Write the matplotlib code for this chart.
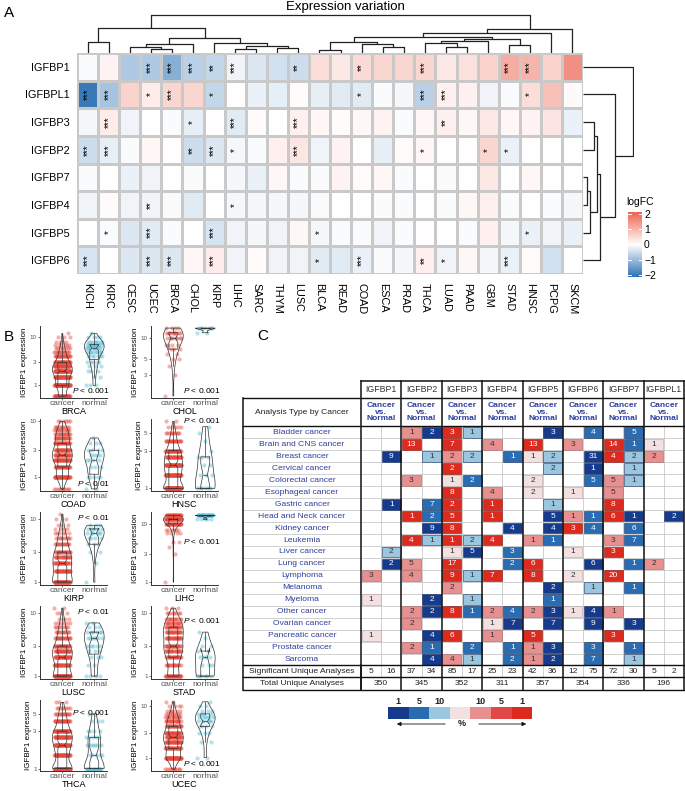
import numpy as np
import matplotlib
matplotlib.use("Agg")
import matplotlib.pyplot as plt
from matplotlib.colors import LinearSegmentedColormap
from matplotlib.patches import Rectangle

plt.rcParams["font.family"] = ["Liberation Sans", "DejaVu Sans"]
plt.rcParams["mathtext.fontset"] = "custom"
plt.rcParams["mathtext.it"] = "Liberation Sans:italic"
plt.rcParams["mathtext.rm"] = "Liberation Sans"

# ---------------- panel A: logFC heatmap ----------------
genes_a = ["IGFBP1", "IGFBPL1", "IGFBP3", "IGFBP2", "IGFBP7", "IGFBP4", "IGFBP5", "IGFBP6"]
cancers_a = ["KICH", "KIRC", "CESC", "UCEC", "BRCA", "CHOL", "KIRP", "LIHC", "SARC", "THYM", "LUSC", "BLCA",
             "READ", "COAD", "ESCA", "PRAD", "THCA", "LUAD", "PAAD", "GBM", "STAD", "HNSC", "PCPG", "SKCM"]
fc_igfbp1 = [-0.05, 0.15, -0.8, -0.8, -1.2, -0.7, -0.6, -0.15, -0.35, -0.45, -0.5, 0.45,
             0.3, 0.5, 0.55, 0.55, 0.55, 0.3, 0.4, 0.6, 1.1, 1.0, 0.6, 1.5]
fc_igfbpl1 = [-2.0, -0.9, 0.6, 0.25, 0.55, 0.55, -0.6, 0.03, -0.2, -0.25, 0.05, -0.25,
              -0.3, -0.3, -0.05, -0.1, -0.7, 0.2, 0.2, -0.15, -0.05, 0.45, 0.85, 0.08]
fc_igfbp3 = [-0.1, 0.25, -0.15, 0.0, -0.05, -0.25, 0.02, -0.3, 0.05, 0.0, 0.2, 0.1,
             0.05, 0.1, 0.15, -0.05, 0.1, 0.2, 0.1, 0.3, 0.1, 0.15, 0.35, -0.2]
fc_igfbp2 = [-0.5, -0.25, -0.05, 0.1, 0.02, -0.5, -0.35, -0.1, -0.05, 0.2, 0.35, -0.15,
             0.15, 0.0, -0.25, 0.05, 0.1, 0.0, 0.02, 0.55, -0.2, 0.0, 0.0, 0.0]
fc_igfbp7 = [-0.08, 0.0, -0.2, -0.15, 0.0, -0.05, 0.0, -0.1, -0.2, 0.1, -0.05, -0.05,
             0.15, 0.05, 0.1, -0.05, 0.0, -0.08, 0.0, 0.3, 0.0, 0.1, 0.0, 0.0]
fc_igfbp4 = [-0.15, 0.05, -0.15, -0.15, -0.08, -0.3, 0.0, -0.1, -0.1, -0.1, -0.1, -0.08,
             0.0, 0.0, -0.05, -0.05, 0.0, -0.05, 0.1, 0.2, -0.05, 0.0, -0.05, -0.1]
fc_igfbp5 = [0.0, -0.05, -0.35, -0.3, -0.05, 0.0, -0.4, -0.15, -0.1, -0.15, 0.1, -0.1,
             -0.05, -0.05, -0.15, -0.05, 0.02, 0.0, -0.05, 0.2, -0.1, -0.2, -0.15, -0.2]
fc_igfbp6 = [-0.4, 0.0, -0.35, -0.35, -0.35, 0.1, 0.25, -0.15, 0.05, -0.15, -0.15, -0.3,
             -0.3, -0.2, -0.05, -0.1, 0.2, -0.15, 0.1, -0.1, -0.2, 0.05, -0.45, 0.0]

st_igfbp1 = ["", "", "", "***", "***", "***", "**", "***", "", "", "**", "",
             "", "**", "", "", "***", "", "", "", "***", "***", "", ""]
st_igfbpl1 = ["***", "***", "", "*", "***", "", "*", "", "", "", "", "",
              "", "*", "", "", "***", "***", "", "", "", "*", "", ""]
st_igfbp3 = ["", "***", "", "", "", "*", "", "***", "", "", "***", "",
             "", "", "", "", "", "**", "", "", "", "", "", ""]
st_igfbp2 = ["***", "***", "", "", "", "**", "***", "*", "", "", "***", "",
             "", "", "", "", "*", "", "", "*", "*", "", "", ""]
st_igfbp7 = [""] * 24
st_igfbp4 = ["", "", "", "**", "", "", "", "*", "", "", "", "",
             "", "", "", "", "", "", "", "", "", "", "", ""]
st_igfbp5 = ["", "*", "", "***", "", "", "***", "", "", "", "", "*",
             "", "", "", "", "", "", "", "", "", "*", "", ""]
st_igfbp6 = ["***", "", "", "***", "***", "", "***", "", "", "", "", "*",
             "", "***", "", "", "**", "*", "", "", "***", "", "", ""]

# dendrograms: (left, right, height) with leaf indices
col_tree = (((0, 1, 11),
             (((2, (3, 4, 4), 6), 5, 9), (6, ((7, 8, 4), (9, 10, 5), 7), 10), 15), 25),
            (((((11, 12, 3), (13, (14, 15, 6), 9), 11),
               (((16, (17, 18, 6), 10), 19, 12), (20, 21, 8), 14), 16), 22, 20), 23, 24), 38)
row_tree = (0, (1, (((2, 3, 10), ((4, 5, 4), 6, 7), 13), 7, 16), 30), 47)

# ---------------- panel B: IGFBP1 expression ----------------
levels = [0.6, 1, 1.5, 2, 2.5, 3, 4, 5, 6, 7, 8, 10, 12, 14]
brca_cancer = [40, 60, 50, 60, 40, 35, 25, 15, 8, 6, 4, 3, 1, 0]
brca_normal = [0, 3, 2, 3, 3, 5, 6, 8, 10, 10, 8, 4, 1, 0]
chol_cancer = [0, 0, 1, 0, 0, 1, 1, 2, 2, 3, 4, 8, 10, 4]
chol_normal = [0, 0, 0, 0, 0, 0, 0, 0, 0, 0, 0, 0, 2, 7]
coad_cancer = [10, 40, 25, 35, 30, 30, 25, 20, 15, 12, 10, 6, 0, 0]
coad_normal = [2, 5, 3, 4, 4, 4, 3, 1, 0, 0, 0, 0, 0, 0]
hnsc_cancer = [0, 80, 50, 50, 30, 35, 20, 10, 5, 2, 0, 0, 0, 0]
hnsc_normal = [0, 8, 3, 2, 3, 1, 1, 1, 1, 0, 0, 0, 0, 0]
kirp_cancer = [0, 50, 30, 25, 20, 20, 15, 10, 6, 4, 3, 2, 1, 0]
kirp_normal = [0, 1, 0, 1, 0, 2, 3, 4, 6, 5, 3, 0, 0, 0]
lihc_cancer = [0, 1, 0, 0, 0, 1, 1, 2, 0, 4, 6, 30, 45, 25]
lihc_normal = [0, 0, 0, 0, 0, 0, 0, 0, 0, 0, 0, 0, 5, 25]
lusc_cancer = [0, 60, 30, 35, 30, 25, 20, 12, 8, 6, 4, 3, 2, 0]
lusc_normal = [0, 4, 2, 3, 3, 5, 7, 6, 3, 2, 0, 0, 0, 0]
stad_cancer = [0, 30, 15, 20, 20, 25, 25, 22, 18, 15, 12, 8, 3, 0]
stad_normal = [0, 6, 3, 4, 2, 2, 1, 1, 0, 0, 0, 0, 0, 0]
thca_cancer = [0, 80, 40, 45, 40, 40, 25, 15, 8, 3, 0, 0, 0, 0]
thca_normal = [0, 20, 5, 6, 5, 4, 3, 2, 0, 0, 0, 0, 0, 0]
ucec_cancer = [10, 50, 30, 35, 30, 30, 25, 18, 12, 8, 6, 4, 2, 0]
ucec_normal = [0, 2, 0, 2, 0, 3, 4, 6, 6, 4, 3, 2, 1, 0]
b_names = ["BRCA", "CHOL", "COAD", "HNSC", "KIRP", "LIHC", "LUSC", "STAD", "THCA", "UCEC"]
b_pvals = ["< 0.001", "< 0.001", "< 0.01", "< 0.001", "< 0.01", "< 0.001", "< 0.01", "< 0.001", "< 0.001", "< 0.001"]
b_ticks = [[1, 3, 10], [3, 5, 10], [1, 3, 10], [1, 3, 5], [1, 3, 10],
           [1, 3, 10], [1, 3, 10], [1, 3, 10], [1, 3, 5], [1, 3, 10]]

# ---------------- panel C: Oncomine table ----------------
c_genes = ["IGFBP1", "IGFBP2", "IGFBP3", "IGFBP4", "IGFBP5", "IGFBP6", "IGFBP7", "IGFBPL1"]
c_cancers = ["Bladder cancer", "Brain and CNS cancer", "Breast cancer", "Cervical cancer", "Colorectal cancer",
             "Esophageal cancer", "Gastric cancer", "Head and Neck cancer", "Kidney cancer", "Leukemia",
             "Liver cancer", "Lung cancer", "Lymphoma", "Melanoma", "Myeloma", "Other cancer",
             "Ovarian cancer", "Pancreatic cancer", "Prostate cancer", "Sarcoma"]
# count + rank grade (D: 1%, M: 5%, L: 10%, P: beyond)
igfbp1_up = ["", "", "", "", "", "", "", "", "", "", "", "", "3L", "", "1P", "", "", "1P", "", ""]
igfbp1_dn = ["", "", "9D", "", "", "", "1D", "", "", "", "2L", "2D", "", "", "", "", "", "", "", ""]
igfbp2_up = ["1L", "13D", "", "", "3L", "", "", "1D", "", "4D", "", "5L", "4L", "", "", "2L", "2L", "", "2L", ""]
igfbp2_dn = ["2D", "", "1L", "", "", "", "7M", "2M", "9D", "1L", "", "", "", "", "2D", "2D", "", "4D", "1M", "4D"]
igfbp3_up = ["3D", "7D", "2L", "2D", "1P", "8D", "2D", "5D", "8D", "1D", "1P", "17D", "9D", "2L", "", "8D", "", "6D", "", "4L"]
igfbp3_dn = ["1L", "", "2L", "", "2M", "", "", "", "", "2L", "5D", "", "1L", "", "1L", "1M", "", "", "2M", "1L"]
igfbp4_up = ["", "4L", "", "", "", "4L", "1D", "1D", "", "4D", "", "", "7D", "", "", "2L", "1P", "1L", "", ""]
igfbp4_dn = ["", "", "1M", "", "", "", "", "", "4D", "", "3M", "2M", "", "", "", "4M", "7D", "", "1M", "2M"]
igfbp5_up = ["", "13D", "1P", "", "2P", "2P", "", "", "", "1L", "", "6D", "8D", "", "", "2L", "", "5D", "1L", "1L"]
igfbp5_dn = ["3D", "", "2L", "2L", "", "", "1L", "5D", "4D", "1M", "", "", "", "2D", "1M", "3D", "7D", "", "3D", "2D"]
igfbp6_up = ["", "3L", "", "", "", "1P", "", "1L", "3D", "", "1P", "", "2P", "", "", "1P", "", "", "", ""]
igfbp6_dn = ["4M", "", "31D", "1D", "5M", "", "", "1M", "4M", "", "", "6D", "", "1L", "", "4D", "9D", "", "3M", "7M"]
igfbp7_up = ["", "14D", "4D", "", "5L", "5L", "8D", "6D", "", "3L", "3D", "", "20D", "", "", "1L", "", "3D", "", ""]
igfbp7_dn = ["5M", "1M", "2L", "1L", "1L", "", "", "1D", "6M", "7M", "", "1M", "", "1M", "", "", "3D", "", "1M", "1L"]
igfbpl1_up = ["", "1P", "2L", "", "", "", "", "", "", "", "", "2L", "", "", "", "", "", "", "", ""]
igfbpl1_dn = ["", "", "", "", "", "", "", "2D", "", "", "", "", "", "", "", "", "", "", "", ""]
sig_analyses = [5, 16, 37, 34, 85, 17, 25, 23, 42, 36, 12, 75, 72, 30, 5, 2]
total_analyses = [350, 345, 352, 311, 357, 354, 336, 196]
legend_ranks = ["1", "5", "10", "", "10", "5", "1"]

W, H = 685, 791
fig = plt.figure(figsize=(W / 100, H / 100), dpi=100)


def px_axes(x0, y0, x1, y1):
    return fig.add_axes([x0 / W, 1 - y1 / H, (x1 - x0) / W, (y1 - y0) / H])


def draw_tree(ax, node, top):
    if isinstance(node, int):
        return node + 0.5, 0
    left, right, h = node
    cl, hl = draw_tree(ax, left, top)
    cr, hr = draw_tree(ax, right, top)
    if top:
        ax.plot([cl, cl, cr, cr], [hl, h, h, hr], color="#222222", lw=0.9, solid_capstyle="butt")
    else:
        ax.plot([hl, h, h, hr], [cl, cl, cr, cr], color="#222222", lw=0.9, solid_capstyle="butt")
    return (cl + cr) / 2, h


# ---- A ----
cmap = LinearSegmentedColormap.from_list("fc", ["#2f72b4", "#ffffff", "#ec6451"])
vmin, vmax = -2.1, 2.1
fc = np.array([fc_igfbp1, fc_igfbpl1, fc_igfbp3, fc_igfbp2, fc_igfbp7, fc_igfbp4, fc_igfbp5, fc_igfbp6])
stars = [st_igfbp1, st_igfbpl1, st_igfbp3, st_igfbp2, st_igfbp7, st_igfbp4, st_igfbp5, st_igfbp6]

ax = px_axes(77, 53, 583, 274)
ax.pcolormesh(np.arange(len(cancers_a) + 1), np.arange(len(genes_a) + 1), fc, cmap=cmap,
              vmin=vmin, vmax=vmax, edgecolors="#c9c9c9", linewidth=0.9)
ax.set_xlim(0, len(cancers_a))
ax.set_ylim(len(genes_a), 0)
for r in range(len(genes_a)):
    for c in range(len(cancers_a)):
        if stars[r][c]:
            ax.text(c + 0.5, r + 0.5, stars[r][c], rotation=90, ha="center", va="center", fontsize=7)
ax.set_xticks(np.arange(len(cancers_a)) + 0.5)
ax.set_xticklabels(cancers_a, rotation=270, fontsize=7.8)
ax.set_yticks(np.arange(len(genes_a)) + 0.5)
ax.set_yticklabels(genes_a, fontsize=7.8)
ax.tick_params(length=0, pad=5)
ax.tick_params(axis="x", pad=6.5)
for s in ax.spines.values():
    s.set_visible(False)

dax = px_axes(77, 13, 583, 53)
draw_tree(dax, col_tree, True)
dax.set_xlim(0, len(cancers_a))
dax.set_ylim(0, 40)
dax.axis("off")

rax = px_axes(583, 53, 634, 274)
draw_tree(rax, row_tree, False)
rax.set_ylim(len(genes_a), 0)
rax.set_xlim(0, 48)
rax.axis("off")

cax = px_axes(628, 212, 642, 277)
cax.imshow(np.linspace(vmax, vmin, 200)[:, None], aspect="auto", cmap=cmap, vmin=vmin, vmax=vmax,
           extent=(0, 1, vmin, vmax))
cb_ticks = [-2, -1, 0, 1, 2]
for t in cb_ticks:
    cax.plot([0, 0.22], [t, t], color="white", lw=0.7)
    cax.plot([0.78, 1], [t, t], color="white", lw=0.7)
cax.set_xlim(0, 1)
cax.set_ylim(vmin, vmax)
cax.set_xticks([])
cax.yaxis.tick_right()
cax.set_yticks(cb_ticks)
cax.set_yticklabels([str(t).replace("-", "\u2212") for t in cb_ticks], fontsize=7.5)
cax.tick_params(length=0, pad=1.5)
for s in cax.spines.values():
    s.set_visible(False)
cax.set_title("logFC", fontsize=7.5, loc="left", pad=5, x=-0.1)

# ---- B ----
b_cancer = [brca_cancer, chol_cancer, coad_cancer, hnsc_cancer, kirp_cancer,
            lihc_cancer, lusc_cancer, stad_cancer, thca_cancer, ucec_cancer]
b_normal = [brca_normal, chol_normal, coad_normal, hnsc_normal, kirp_normal,
            lihc_normal, lusc_normal, stad_normal, thca_normal, ucec_normal]
b_ylim = [(0.55, 17), (1.4, 15), (0.55, 11), (0.93, 7.5), (0.9, 13),
          (0.9, 16), (0.9, 13), (0.9, 13), (0.93, 7.5), (0.55, 13)]
b_py = [0.1, 0.1, 0.1, 0.98, 0.92, 0.6, 0.93, 0.8, 0.83, 0.1]
row_y = [(326, 398), (419, 491), (512, 585), (606, 679), (700, 771)]
col_x = [(40, 107), (151, 218)]
red, teal = "#e8473b", "#4cb9d4"
for k, name in enumerate(b_names):
    r, c = divmod(k, 2)
    bx = px_axes(col_x[c][0], row_y[r][0], col_x[c][1], row_y[r][1])
    groups = [np.log10(np.repeat(levels, b_cancer[k])), np.log10(np.repeat(levels, b_normal[k]))]
    for pos, vals, colr in zip([1, 2], groups, [red, teal]):
        jit = ((np.arange(len(vals)) * 0.618034) % 1 - 0.5) * 0.5
        bx.scatter(pos + jit, vals, s=9, color=colr, alpha=0.42, lw=0, zorder=1, clip_on=False)
    parts = bx.violinplot(groups, positions=[1, 2], widths=0.62, showextrema=False)
    for body in parts["bodies"]:
        body.set_facecolor("none")
        body.set_edgecolor("#333333")
        body.set_linewidth(0.5)
        body.set_alpha(1)
    lp = dict(color="#333333", linewidth=0.5)
    bx.boxplot(groups, positions=[1, 2], widths=0.28, notch=True, showfliers=False,
               boxprops=lp, whiskerprops=lp, medianprops=lp, capprops=dict(linewidth=0))
    bx.set_xlim(0.3, 2.4)
    bx.set_ylim(np.log10(b_ylim[k][0]), np.log10(b_ylim[k][1]))
    bx.set_yticks(np.log10(b_ticks[k]))
    bx.set_yticklabels([str(t) for t in b_ticks[k]], fontsize=4.5, color="#555555")
    bx.set_xticks([1, 2])
    bx.set_xticklabels(["cancer", "normal"], fontsize=6, color="#555555")
    bx.tick_params(length=1.5, width=0.5, pad=1, color="#333333")
    bx.tick_params(axis="x", pad=0.3)
    bx.set_xlabel(name, fontsize=6.5, labelpad=-0.3)
    bx.set_ylabel("IGFBP1 expression", fontsize=5.8, labelpad=1)
    for s in ["top", "right"]:
        bx.spines[s].set_visible(False)
    for s in ["left", "bottom"]:
        bx.spines[s].set_linewidth(0.7)
        bx.spines[s].set_color("#333333")
    bx.text(1.04, b_py[k], r"$\it{P}$ " + b_pvals[k], transform=bx.transAxes, ha="right", va="center",
            fontsize=6, clip_on=False)

# ---- C ----
up_cols = [igfbp1_up, igfbp2_up, igfbp3_up, igfbp4_up, igfbp5_up, igfbp6_up, igfbp7_up, igfbpl1_up]
dn_cols = [igfbp1_dn, igfbp2_dn, igfbp3_dn, igfbp4_dn, igfbp5_dn, igfbp6_dn, igfbp7_dn, igfbpl1_dn]
red_sh = {"D": "#dc2a1f", "M": "#e04845", "L": "#e88f8f", "P": "#f3e0e0"}
blue_sh = {"D": "#173b8c", "M": "#2a6cb1", "L": "#9ac6df", "P": "#dbe8f2"}
edge_sh = {"D": "#7a1a14", "M": "#8a2a28", "L": "#a06060", "P": "#b0a0a0"}

tax = px_axes(238, 376, 685, 694)
tax.set_xlim(238, 685)
tax.set_ylim(694, 376)
tax.axis("off")
x_left, x_lab, x_right = 243, 361, 684
sw = (x_right - x_lab) / (2 * len(c_genes))
y_gene, y_sub, y_data = 381, 398, 426.5
rh = 11.95
y_sig = y_data + len(c_cancers) * rh
y_tot = y_sig + 12
y_end = y_tot + 13
blue_txt = "#2d3f9c"

for i, name in enumerate(c_cancers):
    tax.text((x_left + x_lab) / 2, y_data + (i + 0.5) * rh, name, ha="center", va="center",
             fontsize=6.1, color=blue_txt)
for g, gene in enumerate(c_genes):
    for side, cells, shades in [(0, up_cols[g], red_sh), (1, dn_cols[g], blue_sh)]:
        x = x_lab + (2 * g + side) * sw
        for i, cell in enumerate(cells):
            if not cell:
                continue
            count, grade = cell[:-1], cell[-1]
            y = y_data + i * rh
            tax.add_patch(Rectangle((x + 0.6, y + 0.6), sw - 1.2, rh - 1.2, facecolor=shades[grade],
                                    edgecolor=edge_sh[grade] if side == 0 else "#1c2c5a", lw=0.4, zorder=2))
            tax.text(x + sw / 2, y + rh / 2, count, ha="center", va="center", fontsize=6, zorder=3,
                     color="white" if grade in "DM" else "#333333")
    xm = x_lab + 2 * g * sw
    tax.text(xm + sw, (y_gene + y_sub) / 2, gene, ha="center", va="center", fontsize=6.3, color="#333333")
    tax.text(xm + sw, (y_sub + y_data) / 2, "Cancer\nvs.\nNormal", ha="center", va="center", fontsize=6,
             color=blue_txt, fontweight="bold", linespacing=0.95)
    for side in (0, 1):
        tax.text(xm + (side + 0.5) * sw, (y_sig + y_tot) / 2, str(sig_analyses[2 * g + side]),
                 ha="center", va="center", fontsize=6, color="#222222")
    tax.text(xm + sw, (y_tot + y_end) / 2, str(total_analyses[g]), ha="center", va="center",
             fontsize=6, color="#222222")
tax.text((x_left + x_lab) / 2, (y_sub + y_data) / 2, "Analysis Type by Cancer", ha="center", va="center",
         fontsize=6.1, color="#222222")
tax.text((x_left + x_lab) / 2, (y_sig + y_tot) / 2, "Significant Unique Analyses", ha="center", va="center",
         fontsize=6.1, color="#222222")
tax.text((x_left + x_lab) / 2, (y_tot + y_end) / 2, "Total Unique Analyses", ha="center", va="center",
         fontsize=6.1, color="#222222")

# grid
for i in range(1, len(c_cancers)):
    tax.plot([x_left, x_right], [y_data + i * rh] * 2, color="#bdbdbd", lw=0.5, zorder=1)
for k in range(2 * len(c_genes)):
    if k % 2 == 1:
        xx = x_lab + k * sw
        tax.plot([xx, xx], [y_data, y_tot], color="#bdbdbd", lw=0.5, zorder=1)
for g in range(len(c_genes) + 1):
    xx = x_lab + 2 * g * sw
    tax.plot([xx, xx], [y_gene, y_end], color="#111111", lw=1.1, zorder=4, clip_on=False)
tax.plot([x_left, x_left], [y_sub, y_end], color="#111111", lw=1.1, zorder=4)
tax.plot([x_lab, x_right], [y_gene, y_gene], color="#111111", lw=1.1, zorder=4, clip_on=False)
for yy in [y_sub, y_data, y_sig, y_tot, y_end]:
    tax.plot([x_left, x_right], [yy, yy], color="#111111", lw=1.0, zorder=4, clip_on=False)
tax.plot([x_lab, x_lab], [y_sig, y_end], color="#111111", lw=1.1, zorder=4)

# colour legend
ov = fig.add_axes([0, 0, 1, 1])
ov.set_xlim(0, W)
ov.set_ylim(H, 0)
ov.axis("off")
leg_colors = [blue_sh["D"], blue_sh["M"], blue_sh["L"], red_sh["P"], red_sh["L"], red_sh["M"], red_sh["D"]]
bw = 20.6
for i, (colr, lab) in enumerate(zip(leg_colors, legend_ranks)):
    ov.add_patch(Rectangle((388 + i * bw, 707), bw, 11.5, facecolor=colr, edgecolor="none"))
    ov.text(388 + (i + 0.5) * bw, 701, lab, ha="center", va="center", fontsize=6.5, fontweight="bold",
            color="#222222")
ov.annotate("", xy=(394, 724), xytext=(448, 724),
            arrowprops=dict(arrowstyle="-|>", color="#111111", lw=0.6, mutation_scale=6))
ov.annotate("", xy=(529, 724), xytext=(476, 724),
            arrowprops=dict(arrowstyle="-|>", color="#111111", lw=0.6, mutation_scale=6))
ov.text(462, 724, "%", ha="center", va="center", fontsize=6.5, fontweight="bold", color="#222222")

# titles and panel letters
ov.text(345, 7, "Expression variation", ha="center", va="center", fontsize=9.5)
ov.text(4, 13, "A", ha="left", va="center", fontsize=11)
ov.text(4, 337, "B", ha="left", va="center", fontsize=11)
ov.text(257, 336, "C", ha="left", va="center", fontsize=11)

fig.savefig("out.png", dpi=100)
